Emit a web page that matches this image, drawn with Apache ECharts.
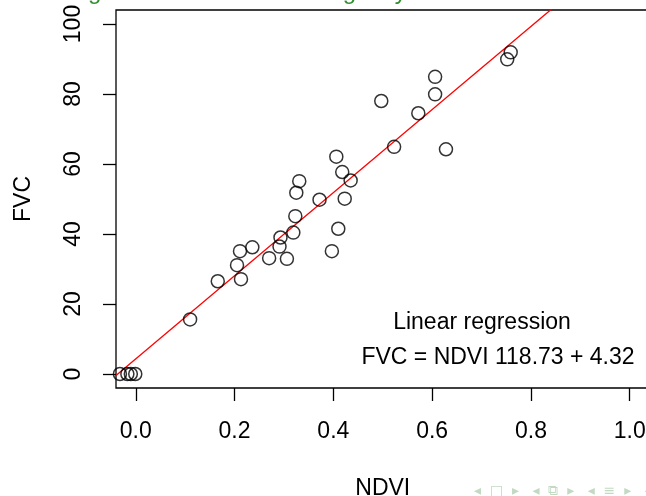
<!DOCTYPE html>
<html>
<head>
<meta charset="utf-8">
<script src="https://cdn.jsdelivr.net/npm/echarts@6/dist/echarts.min.js"></script>
<style>
  html, body { margin: 0; padding: 0; background: #fff; }
  #main { width: 646px; height: 496px; }
</style>
</head>
<body>
<div id="main"></div>
<script>
// NDVI / FVC observations
const ndvi = [-0.032, -0.017, -0.010, -0.001, 0.110, 0.166, 0.213, 0.205, 0.211, 0.236,
  0.270, 0.306, 0.291, 0.293, 0.319, 0.323, 0.325, 0.331, 0.372, 0.397,
  0.410, 0.406, 0.418, 0.423, 0.435, 0.497, 0.523, 0.572, 0.606,
  0.606, 0.628, 0.752, 0.759];
const fvc = [0, 0, 0, 0, 15.6, 26.5, 27.1, 31.1, 35.1, 36.2,
  33.1, 32.9, 36.4, 39.0, 40.4, 45.1, 51.8, 55.1, 49.8, 35.1,
  41.5, 62.1, 57.7, 50.1, 55.3, 78.0, 64.9, 74.5, 79.9,
  84.9, 64.2, 89.9, 91.9];

// fitted line FVC = slope * NDVI + intercept
const slope = 118.73;
const intercept = 4.32;

const xTicks = [0, 0.2, 0.4, 0.6, 0.8, 1.0];
const yTicks = [0, 20, 40, 60, 80, 100];

const xMin = -0.04, xMax = 1.04;
const yMin = -4, yMax = 104;

const font = 'Liberation Sans, Arial, sans-serif';

const chart = echarts.init(document.getElementById('main'));

const points = ndvi.map((x, i) => [x, fvc[i]]);
const fitLine = [xMin, xMax].map(x => [x, slope * x + intercept]);

const option = {
  animation: false,
  backgroundColor: '#fff',
  grid: {
    left: 116,
    top: 10,
    width: 533.5,
    height: 378,
    outerBoundsMode: 'none',
    containLabel: false,
    show: true,
    borderColor: '#000',
    borderWidth: 1.3,
    backgroundColor: 'transparent'
  },
  xAxis: {
    type: 'value',
    min: xMin,
    max: xMax,
    name: 'NDVI',
    nameLocation: 'middle',
    nameGap: 89,
    nameTextStyle: { color: '#000', fontSize: 23, fontFamily: font },
    axisLine: { show: false, onZero: false },
    splitLine: { show: false },
    axisTick: {
      show: true,
      length: 13,
      inside: false,
      customValues: xTicks,
      lineStyle: { color: '#000', width: 1.3 }
    },
    axisLabel: {
      color: '#000',
      fontSize: 23,
      fontFamily: font,
      margin: 32,
      customValues: xTicks,
      formatter: v => v.toFixed(1)
    }
  },
  yAxis: {
    type: 'value',
    min: yMin,
    max: yMax,
    name: 'FVC',
    nameLocation: 'middle',
    nameGap: 81,
    nameTextStyle: { color: '#000', fontSize: 23, fontFamily: font },
    axisLine: { show: false, onZero: false },
    splitLine: { show: false },
    axisTick: {
      show: true,
      length: 13,
      inside: false,
      customValues: yTicks,
      lineStyle: { color: '#000', width: 1.3 }
    },
    axisLabel: {
      color: '#000',
      fontSize: 23,
      fontFamily: font,
      rotate: 90,
      margin: 31,
      customValues: yTicks
    }
  },
  series: [
    {
      name: 'Regression',
      type: 'line',
      data: fitLine,
      clip: true,
      symbol: 'none',
      lineStyle: { color: '#ff0000', width: 1.3 },
      z: 2
    },
    {
      name: 'Observations',
      type: 'scatter',
      data: points,
      symbol: 'circle',
      symbolSize: 13,
      itemStyle: {
        color: 'rgba(255,255,255,0)',
        borderColor: '#000',
        borderWidth: 1.5
      },
      z: 3
    }
  ],
  graphic: [
    {
      // frame title, almost all of it above the visible area
      type: 'text',
      x: 36,
      y: -8,
      style: {
        text: 'Fitting FVC on NDVI: it rises gently',
        fill: '#2f8f2f',
        fontSize: 24,
        fontFamily: font,
        align: 'left',
        verticalAlign: 'middle'
      }
    },
    {
      type: 'text',
      x: 482,
      y: 323,
      style: {
        text: 'Linear regression',
        fill: '#000',
        fontSize: 23,
        fontFamily: font,
        align: 'center',
        verticalAlign: 'middle'
      }
    },
    {
      type: 'text',
      x: 498,
      y: 358,
      style: {
        text: 'FVC = NDVI ' + slope.toFixed(2) + ' + ' + intercept.toFixed(2),
        fill: '#000',
        fontSize: 23,
        fontFamily: font,
        align: 'center',
        verticalAlign: 'middle'
      }
    },
    {
      // beamer navigation symbols
      type: 'text',
      x: 474,
      y: 491,
      style: {
        text: '◂  □  ▸   ◂  ⧉  ▸   ◂  ≡  ▸   ◂',
        fill: '#c2d9c2',
        fontSize: 14,
        fontFamily: 'DejaVu Sans',
        align: 'left',
        verticalAlign: 'middle'
      }
    }
  ]
};

chart.setOption(option);
</script>
</body>
</html>
